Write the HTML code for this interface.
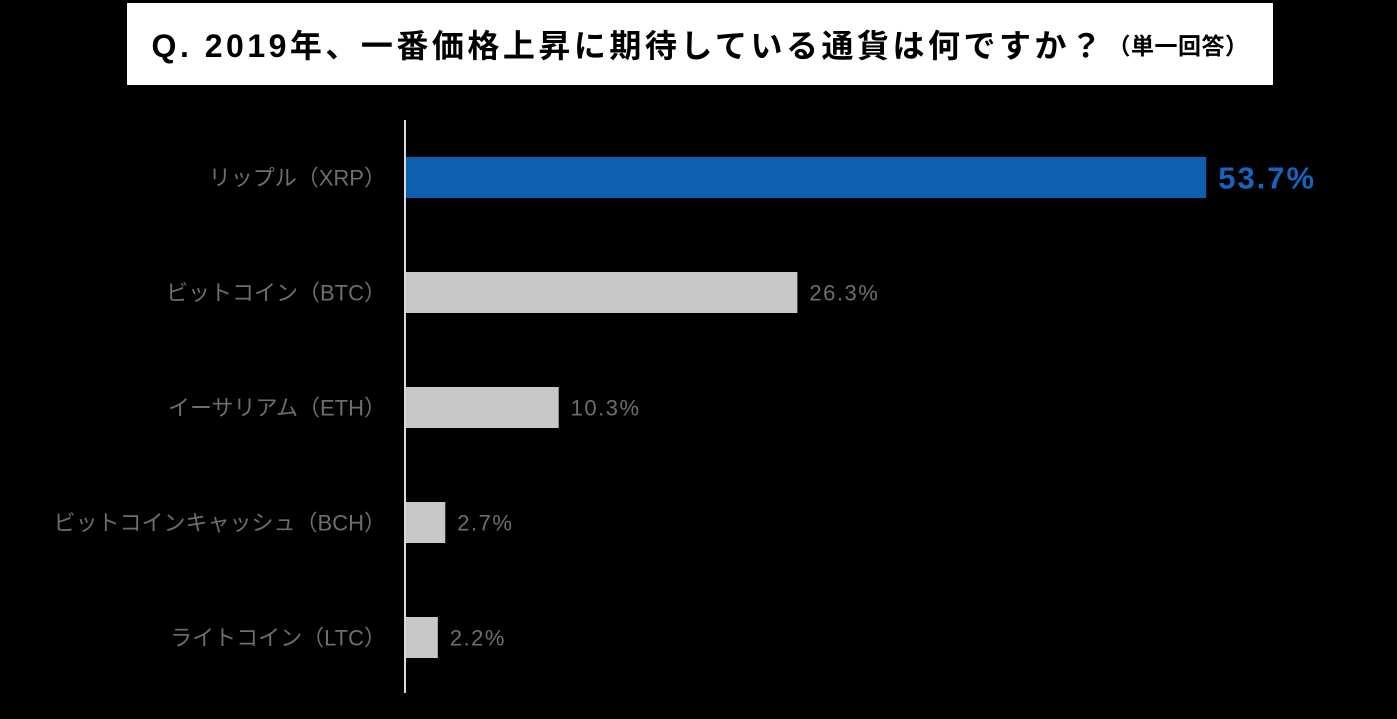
<!DOCTYPE html>
<html><head><meta charset="utf-8">
<style>
html,body{margin:0;padding:0;background:#000;}
body{width:1397px;height:719px;position:relative;overflow:hidden;font-family:"Liberation Sans","Noto Sans CJK JP",sans-serif;}
#title{position:absolute;left:127px;top:3px;width:1146px;height:82px;background:#fff;color:#000;font-weight:bold;font-size:32px;letter-spacing:3.5px;display:flex;align-items:center;justify-content:center;}
#title small{font-size:23px;margin-left:2px;letter-spacing:0.5px;}
</style></head>
<body>
<div id="title">Q. 2019年、一番価格上昇に期待している通貨は何ですか？<small>（単一回答）</small></div>
<svg id="chart" width="1397" height="719" style="position:absolute;left:0;top:0"></svg>
<script>
const categories=["リップル（XRP）","ビットコイン（BTC）","イーサリアム（ETH）","ビットコインキャッシュ（BCH）","ライトコイン（LTC）"];
const values=[53.7,26.3,10.3,2.7,2.2];
const valueLabels=["53.7%","26.3%","10.3%","2.7%","2.2%"];
const NS="http://www.w3.org/2000/svg";
const svg=document.getElementById('chart');
const x0=405, pxPer=14.92, top0=157, step=115, barH=41;
const xs=v=>x0+v*pxPer;
function mk(t,a){const e=document.createElementNS(NS,t);for(const k in a)e.setAttribute(k,a[k]);svg.appendChild(e);return e;}
categories.forEach((c,i)=>{
  const y=top0+i*step;
  const r=mk('rect',{x:x0,y:y,width:xs(values[i])-x0,height:barH,fill:i===0?'#0f5fb0':'#c8c8c8'});
  
  
  const t=mk('text',{x:386,y:y+barH/2+8,'text-anchor':'end','font-size':22,fill:'#6e6e6e'});
  t.textContent=c;
  
  
  const v=mk('text',{x:xs(values[i])+12,y:y+barH/2+(i===0?11:8),'font-size':i===0?31:22,'letter-spacing':i===0?2:1.5,'font-weight':i===0?'bold':'normal',fill:i===0?'#1565c0':'#6e6e6e'});
  v.textContent=valueLabels[i];
  
  
});
const ax=mk('line',{x1:x0,y1:120,x2:x0,y2:693,stroke:'#d9d9d9','stroke-width':2});


</script>
</body></html>
